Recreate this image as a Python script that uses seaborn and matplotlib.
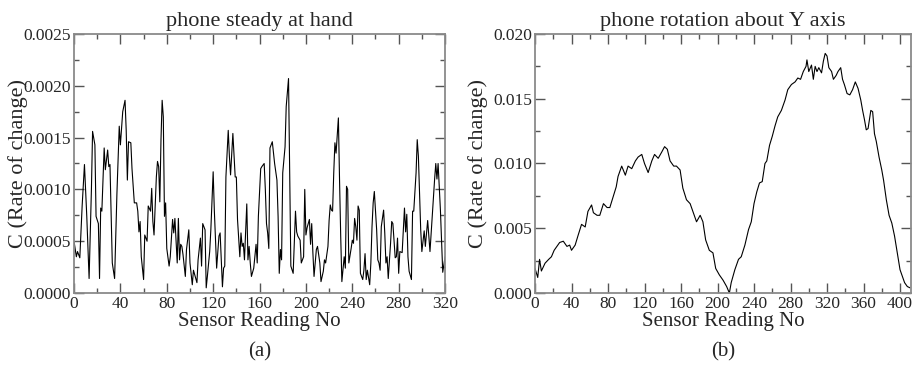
import numpy as np
import pandas as pd
import matplotlib
matplotlib.use('Agg')
import matplotlib.pyplot as plt
import seaborn as sns
from matplotlib.ticker import MultipleLocator, FormatStrFormatter

sns.set_style('ticks')
plt.rcParams['font.family'] = ['Liberation Serif', 'DejaVu Serif']

# ---------------------------------------------------------
# (a) phone steady at hand
# ---------------------------------------------------------
steady_no = [
    0, 2, 3, 5, 7, 9, 11, 13, 15, 16,
    18, 19, 21, 22, 23, 24, 26, 27, 29, 30,
    31, 33, 35, 37, 39, 40, 42, 44, 45, 46,
    47, 49, 50, 52, 54, 55, 56, 57, 58, 60,
    61, 63, 64, 66, 67, 68, 69, 71, 72, 73,
    74, 75, 76, 77, 78, 79, 80, 82, 83, 85,
    86, 87, 89, 90, 91, 92, 93, 94, 96, 97,
    99, 100, 102, 103, 105, 106, 107, 109, 110, 111,
    112, 113, 114, 115, 117, 118, 120, 121, 123, 125,
    126, 128, 129, 130, 131, 133, 134, 135, 137, 138,
    139, 140, 141, 143, 144, 145, 146, 147, 149, 150,
    151, 152, 153, 155, 157, 158, 159, 161, 162, 164,
    165, 166, 167, 168, 169, 171, 173, 175, 176, 177,
    178, 179, 180, 181, 182, 183, 185, 186, 187, 189,
    191, 192, 193, 195, 196, 198, 199, 200, 201, 203,
    204, 205, 206, 207, 209, 210, 212, 213, 215, 216,
    217, 219, 220, 221, 222, 223, 224, 225, 226, 228,
    229, 230, 231, 233, 234, 235, 236, 237, 239, 240,
    241, 242, 243, 244, 245, 246, 247, 249, 250, 251,
    252, 253, 255, 256, 257, 258, 259, 261, 262, 263,
    264, 265, 267, 268, 269, 270, 271, 273, 274, 275,
    277, 278, 279, 280, 281, 283, 284, 285, 286, 287,
    288, 289, 291, 292, 293, 295, 296, 297, 299, 300,
    302, 303, 305, 307, 309, 311, 312, 313, 314, 316,
    318, 320,
]
steady_c = [
    0.00050, 0.00035, 0.00040, 0.00034, 0.00084, 0.00124, 0.00074, 0.00014, 0.00100, 0.00156,
    0.00143, 0.00074, 0.00067, 0.00014, 0.00082, 0.00079, 0.00140, 0.00119, 0.00138, 0.00122,
    0.00124, 0.00029, 0.00014, 0.00096, 0.00161, 0.00143, 0.00175, 0.00186, 0.00157, 0.00109,
    0.00146, 0.00145, 0.00120, 0.00087, 0.00087, 0.00079, 0.00059, 0.00069, 0.00035, 0.00013,
    0.00056, 0.00050, 0.00084, 0.00079, 0.00101, 0.00069, 0.00056, 0.00112, 0.00127, 0.00122,
    0.00088, 0.00148, 0.00186, 0.00170, 0.00074, 0.00087, 0.00043, 0.00026, 0.00035, 0.00071,
    0.00058, 0.00072, 0.00029, 0.00072, 0.00032, 0.00047, 0.00045, 0.00037, 0.00016, 0.00042,
    0.00061, 0.00029, 0.00008, 0.00022, 0.00014, 0.00010, 0.00032, 0.00053, 0.00026, 0.00067,
    0.00064, 0.00061, 0.00005, 0.00016, 0.00040, 0.00061, 0.00117, 0.00080, 0.00024, 0.00055,
    0.00058, 0.00006, 0.00024, 0.00026, 0.00112, 0.00157, 0.00132, 0.00114, 0.00154, 0.00132,
    0.00112, 0.00112, 0.00071, 0.00035, 0.00058, 0.00045, 0.00048, 0.00032, 0.00086, 0.00032,
    0.00045, 0.00029, 0.00016, 0.00024, 0.00047, 0.00029, 0.00074, 0.00120, 0.00122, 0.00125,
    0.00100, 0.00067, 0.00058, 0.00043, 0.00140, 0.00146, 0.00125, 0.00109, 0.00074, 0.00019,
    0.00042, 0.00032, 0.00116, 0.00129, 0.00141, 0.00180, 0.00207, 0.00119, 0.00026, 0.00019,
    0.00079, 0.00059, 0.00055, 0.00051, 0.00029, 0.00035, 0.00100, 0.00056, 0.00063, 0.00071,
    0.00047, 0.00067, 0.00039, 0.00016, 0.00042, 0.00045, 0.00029, 0.00011, 0.00021, 0.00032,
    0.00029, 0.00045, 0.00070, 0.00085, 0.00080, 0.00079, 0.00116, 0.00145, 0.00135, 0.00169,
    0.00109, 0.00055, 0.00011, 0.00035, 0.00024, 0.00103, 0.00100, 0.00029, 0.00043, 0.00051,
    0.00048, 0.00072, 0.00064, 0.00051, 0.00084, 0.00080, 0.00019, 0.00013, 0.00022, 0.00038,
    0.00013, 0.00022, 0.00008, 0.00029, 0.00064, 0.00087, 0.00098, 0.00061, 0.00032, 0.00029,
    0.00022, 0.00064, 0.00080, 0.00058, 0.00029, 0.00035, 0.00014, 0.00048, 0.00069, 0.00067,
    0.00034, 0.00035, 0.00053, 0.00019, 0.00040, 0.00039, 0.00061, 0.00082, 0.00059, 0.00076,
    0.00035, 0.00021, 0.00013, 0.00079, 0.00079, 0.00116, 0.00148, 0.00132, 0.00061, 0.00040,
    0.00060, 0.00045, 0.00070, 0.00040, 0.00075, 0.00110, 0.00125, 0.00110, 0.00125, 0.00080,
    0.00020, 0.00035,
]

# ---------------------------------------------------------
# (b) phone rotation about Y axis
# ---------------------------------------------------------
rotation_no = [
    0, 3, 5, 7, 11, 15, 18, 21, 24, 27,
    31, 35, 38, 40, 44, 47, 51, 55, 58, 62,
    64, 68, 71, 75, 79, 82, 86, 89, 91, 95,
    99, 102, 106, 110, 113, 117, 120, 124, 128, 131,
    135, 139, 142, 145, 148, 152, 155, 159, 162, 166,
    170, 173, 177, 181, 184, 187, 191, 195, 198, 202,
    206, 210, 213, 215, 219, 223, 226, 230, 234, 237,
    240, 243, 246, 249, 252, 254, 257, 260, 263, 266,
    270, 274, 277, 281, 285, 288, 291, 294, 297, 298,
    300, 303, 305, 307, 309, 311, 314, 316, 318, 320,
    322, 325, 327, 330, 332, 335, 337, 339, 342, 345,
    348, 351, 354, 357, 359, 361, 363, 365, 368, 370,
    372, 374, 377, 380, 382, 385, 388, 391, 394, 397,
    400, 403, 405, 408, 411,
]
rotation_c = [
    0.0019, 0.0012, 0.0026, 0.0017, 0.0023, 0.0026, 0.0028, 0.0033, 0.0036, 0.0039,
    0.0040, 0.0036, 0.0037, 0.0033, 0.0037, 0.0044, 0.0053, 0.0051, 0.0063, 0.0068,
    0.0062, 0.0060, 0.0060, 0.0069, 0.0066, 0.0066, 0.0075, 0.0082, 0.0090, 0.0098,
    0.0091, 0.0098, 0.0096, 0.0102, 0.0105, 0.0107, 0.0100, 0.0093, 0.0102, 0.0107,
    0.0104, 0.0109, 0.0113, 0.0111, 0.0102, 0.0098, 0.0098, 0.0095, 0.0081, 0.0072,
    0.0069, 0.0063, 0.0055, 0.0060, 0.0055, 0.0041, 0.0033, 0.0031, 0.0019, 0.0014,
    0.0010, 0.0005, 0.0000, 0.0008, 0.0018, 0.0026, 0.0028, 0.0037, 0.0049, 0.0055,
    0.0069, 0.0078, 0.0085, 0.0086, 0.0100, 0.0102, 0.0114, 0.0121, 0.0129, 0.0136,
    0.0141, 0.0149, 0.0157, 0.0161, 0.0163, 0.0166, 0.0165, 0.0171, 0.0175, 0.0180,
    0.0171, 0.0176, 0.0165, 0.0175, 0.0171, 0.0174, 0.0170, 0.0179, 0.0185, 0.0183,
    0.0174, 0.0171, 0.0165, 0.0168, 0.0171, 0.0174, 0.0165, 0.0161, 0.0154, 0.0153,
    0.0157, 0.0163, 0.0158, 0.0149, 0.0141, 0.0134, 0.0126, 0.0127, 0.0141, 0.0140,
    0.0123, 0.0117, 0.0105, 0.0095, 0.0087, 0.0072, 0.0060, 0.0054, 0.0044, 0.0031,
    0.0018, 0.0012, 0.0008, 0.0005, 0.0004,
]

df_a = pd.DataFrame({'reading': steady_no, 'c': steady_c})
df_b = pd.DataFrame({'reading': rotation_no, 'c': rotation_c})

frame_col = '#8a8a8a'
tick_col = '#555555'


def style_axis(ax, xmax, ymax, ymajor, yfmt, title):
    ax.set_xlim(0, xmax)
    ax.set_ylim(0, ymax)
    ax.xaxis.set_major_locator(MultipleLocator(40))
    ax.xaxis.set_minor_locator(MultipleLocator(20))
    ax.yaxis.set_major_locator(MultipleLocator(ymajor))
    ax.yaxis.set_minor_locator(MultipleLocator(ymajor / 2))
    ax.yaxis.set_major_formatter(FormatStrFormatter(yfmt))
    ax.tick_params(which='both', direction='in', top=True, right=True,
                   color=tick_col, width=1.0, labelsize=12.5, pad=2)
    ax.tick_params(which='major', length=7)
    ax.tick_params(which='minor', length=3.5)
    for sp in ax.spines.values():
        sp.set_visible(True)
        sp.set_color(frame_col)
        sp.set_linewidth(1.3)
    ax.set_xlabel('Sensor Reading No', fontsize=15, labelpad=0)
    ax.set_ylabel('C (Rate of change)', fontsize=16)
    ax.yaxis.set_label_coords(-0.125, 0.5)
    ax.set_title(title, fontsize=16, pad=6)


fig = plt.figure(figsize=(9.15, 3.71), dpi=100)
ax_a = fig.add_axes([0.0809, 0.2102, 0.4055, 0.6982])
ax_b = fig.add_axes([0.5847, 0.2102, 0.4109, 0.6982])

sns.lineplot(data=df_a, x='reading', y='c', ax=ax_a, color='black', linewidth=0.8)
sns.lineplot(data=df_b, x='reading', y='c', ax=ax_b, color='black', linewidth=0.8)

style_axis(ax_a, 320, 0.0025, 0.0005, '%.4f', 'phone steady at hand')
style_axis(ax_b, 412, 0.020, 0.005, '%.3f', 'phone rotation about Y axis')

fig.text(0.0809 + 0.4055 / 2, 0.051, '(a)', ha='center', va='center', fontsize=15)
fig.text(0.5847 + 0.4109 / 2, 0.051, '(b)', ha='center', va='center', fontsize=15)

fig.savefig('out.png', dpi=100)
plt.close(fig)
